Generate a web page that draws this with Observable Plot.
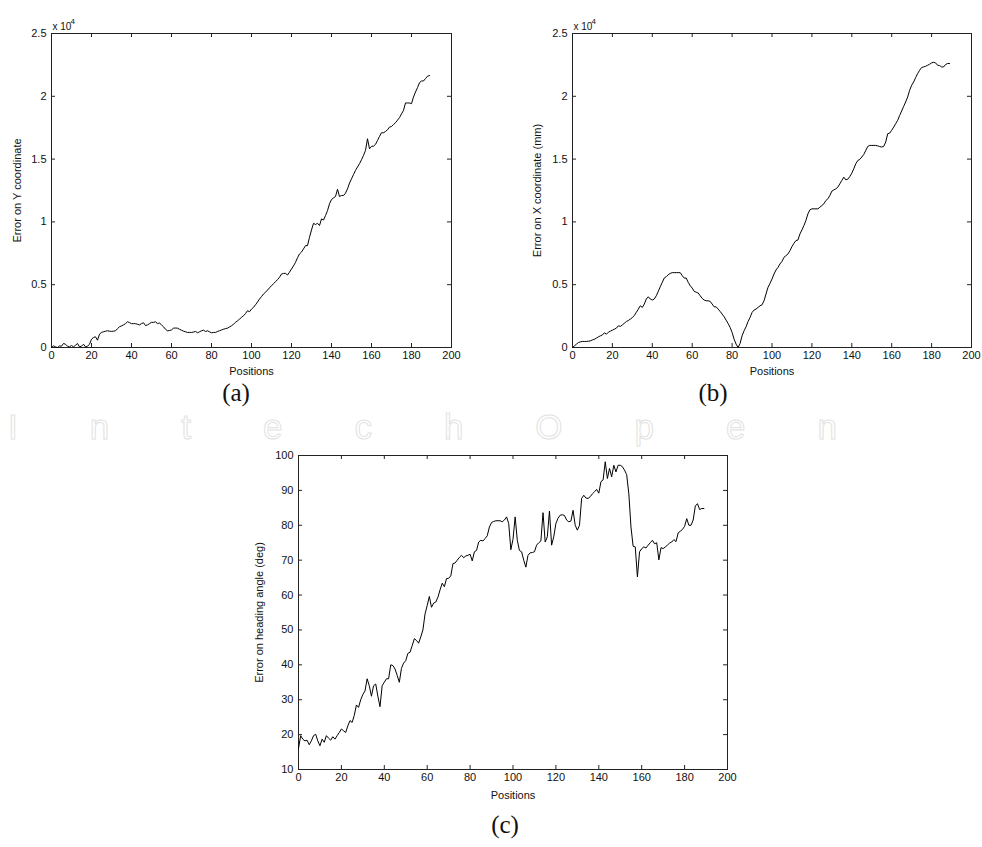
<!DOCTYPE html>
<html>
<head>
<meta charset="utf-8">
<script src="https://cdn.jsdelivr.net/npm/d3@7"></script>
<script src="https://cdn.jsdelivr.net/npm/@observablehq/plot@0.6"></script>
<style>
  html, body { margin: 0; padding: 0; background: #fff; }
  #root { position: relative; width: 982px; height: 847px; overflow: hidden; background: #fff; }
  .panel { position: absolute; }
  .cap { position: absolute; font-family: "Liberation Serif", "DejaVu Serif", serif; font-size: 25px; color: #111; line-height: 1; transform: translateX(-50%); }
  .wm { position: absolute; left: 8px; top: 407px; font-family: "Liberation Sans", Arial, sans-serif; font-size: 35px; line-height: 39px; letter-spacing: 72px; color: transparent; -webkit-text-stroke: 1px #e2e2e2; white-space: nowrap; }
</style>
</head>
<body>
<div id="root"></div>
<script>
// ---- data ----
const positions = d3.range(0, 190);

// Error on Y coordinate (x 10^4)
const errorY = [
  0, 0.013, 0.005, 0, 0.013, 0.01, 0.032, 0.026, 0.01, 0.005,
  0.016, 0.005, 0.018, 0.032, 0.005, 0.01, 0.026, 0.005, 0.01, 0.026,
  0.066, 0.08, 0.085, 0.058, 0.106, 0.12, 0.125, 0.13, 0.133, 0.13,
  0.128, 0.13, 0.133, 0.15, 0.165, 0.172, 0.18, 0.19, 0.205, 0.198,
  0.19, 0.19, 0.19, 0.185, 0.18, 0.19, 0.197, 0.175, 0.18, 0.19,
  0.2, 0.2, 0.205, 0.19, 0.195, 0.18, 0.165, 0.145, 0.133, 0.135,
  0.14, 0.154, 0.155, 0.154, 0.145, 0.138, 0.13, 0.125, 0.12, 0.12,
  0.12, 0.123, 0.128, 0.117, 0.125, 0.133, 0.138, 0.128, 0.133, 0.125,
  0.117, 0.12, 0.12, 0.128, 0.133, 0.14, 0.146, 0.15, 0.154, 0.163,
  0.173, 0.185, 0.2, 0.212, 0.226, 0.24, 0.253, 0.27, 0.293, 0.285,
  0.306, 0.32, 0.34, 0.362, 0.386, 0.405, 0.426, 0.44, 0.457, 0.475,
  0.492, 0.508, 0.524, 0.54, 0.559, 0.585, 0.59, 0.59, 0.577, 0.6,
  0.625, 0.65, 0.678, 0.715, 0.745, 0.76, 0.785, 0.811, 0.811, 0.878,
  0.936, 0.989, 0.979, 0.989, 0.971, 1.024, 1.015, 1.05, 1.09, 1.144,
  1.178, 1.191, 1.202, 1.26, 1.202, 1.21, 1.21, 1.229, 1.263, 1.309,
  1.343, 1.377, 1.41, 1.437, 1.463, 1.495, 1.529, 1.569, 1.662, 1.582,
  1.601, 1.603, 1.617, 1.649, 1.681, 1.71, 1.71, 1.72, 1.733, 1.755,
  1.76, 1.775, 1.79, 1.81, 1.83, 1.86, 1.888, 1.947, 1.947, 1.947,
  1.941, 1.995, 2.034, 2.069, 2.109, 2.122, 2.122, 2.141, 2.16, 2.165
];

// Error on X coordinate (mm) (x 10^4)
const errorX = [
  0, 0.013, 0.027, 0.04, 0.045, 0.048, 0.048, 0.048, 0.05, 0.053,
  0.06, 0.066, 0.075, 0.085, 0.093, 0.1, 0.117, 0.106, 0.122, 0.13,
  0.138, 0.146, 0.154, 0.173, 0.168, 0.18, 0.193, 0.207, 0.215, 0.226,
  0.238, 0.255, 0.28, 0.306, 0.332, 0.319, 0.346, 0.386, 0.404, 0.386,
  0.378, 0.386, 0.412, 0.447, 0.484, 0.519, 0.553, 0.564, 0.58, 0.59,
  0.596, 0.596, 0.596, 0.596, 0.596, 0.572, 0.553, 0.553, 0.519, 0.492,
  0.473, 0.447, 0.44, 0.434, 0.412, 0.391, 0.378, 0.372, 0.372, 0.367,
  0.346, 0.324, 0.324, 0.306, 0.287, 0.266, 0.245, 0.218, 0.191, 0.16,
  0.12, 0.066, 0.027, 0, 0.032, 0.093, 0.133, 0.165, 0.207, 0.239,
  0.279, 0.298, 0.306, 0.319, 0.332, 0.34, 0.372, 0.426, 0.479, 0.511,
  0.545, 0.585, 0.617, 0.638, 0.665, 0.686, 0.718, 0.731, 0.745, 0.771,
  0.803, 0.83, 0.851, 0.856, 0.904, 0.936, 0.971, 1.011, 1.064, 1.096,
  1.104, 1.104, 1.104, 1.104, 1.117, 1.13, 1.144, 1.17, 1.184, 1.21,
  1.245, 1.255, 1.263, 1.277, 1.303, 1.33, 1.356, 1.335, 1.34, 1.361,
  1.388, 1.423, 1.463, 1.489, 1.497, 1.516, 1.537, 1.569, 1.601, 1.609,
  1.609, 1.609, 1.609, 1.605, 1.6, 1.596, 1.601, 1.636, 1.702, 1.707,
  1.729, 1.755, 1.782, 1.809, 1.848, 1.883, 1.92, 1.955, 1.995, 2.048,
  2.088, 2.114, 2.149, 2.181, 2.207, 2.229, 2.234, 2.239, 2.247, 2.255,
  2.266, 2.271, 2.266, 2.247, 2.245, 2.234, 2.234, 2.253, 2.261, 2.261
];

// Error on heading angle (deg)
const errorHeading = [
  16.0, 19.7, 18.7, 18.2, 18.4, 17.1, 18.2, 19.7, 20.1, 18.2,
  16.8, 18.7, 17.8, 19.7, 19.0, 18.4, 19.4, 18.7, 19.7, 20.6,
  21.6, 21.1, 20.6, 22.5, 24.0, 23.5, 25.5, 28.5, 27.8, 30.0,
  31.5, 32.5, 36.0, 34.0, 31.0, 34.0, 34.5, 31.0, 28.0, 34.0,
  35.0, 36.0, 36.0, 40.0, 39.8, 38.8, 37.0, 35.0, 39.0, 40.5,
  41.2, 43.3, 43.6, 45.5, 47.5, 47.0, 46.2, 48.0, 50.0, 54.6,
  57.0, 59.6, 56.5, 57.7, 58.0, 59.4, 61.5, 63.4, 62.4, 64.7,
  64.8, 65.5, 69.0, 69.2, 70.0, 70.8, 71.4, 70.7, 71.2, 71.4,
  71.7, 69.8, 72.4, 72.8, 75.2, 75.7, 75.5, 76.2, 77.0, 79.5,
  80.8, 81.1, 81.3, 81.3, 81.3, 81.0, 81.5, 82.4, 80.5, 73.0,
  76.0, 82.4, 75.7, 72.8, 72.4, 70.0, 68.0, 71.4, 72.1, 72.2,
  72.4, 74.3, 75.0, 75.5, 83.6, 75.2, 76.7, 84.1, 74.3, 76.7,
  80.5, 82.0, 82.9, 83.0, 82.8, 81.5, 81.0, 81.2, 84.3, 80.0,
  78.6, 80.0, 87.7, 88.6, 87.8, 87.7, 88.2, 89.0, 89.6, 90.3,
  89.2, 92.5, 93.0, 98.2, 93.4, 96.3, 93.9, 97.2, 95.3, 97.2,
  97.2, 96.8, 95.8, 94.5, 89.0, 79.5, 74.0, 73.8, 65.2, 72.4,
  73.3, 73.8, 73.5, 74.3, 75.0, 75.7, 74.7, 75.0, 70.1, 73.6,
  73.3, 73.8, 74.3, 74.9, 75.2, 75.9, 75.3, 77.8, 78.3, 78.8,
  79.7, 81.9, 80.0, 80.0, 81.5, 85.5, 86.2, 84.5, 84.8, 84.8
];

const xTicks = [0, 20, 40, 60, 80, 100, 120, 140, 160, 180, 200];
const yTicksXY = [0, 0.5, 1, 1.5, 2, 2.5];
const yTicksHeading = [10, 20, 30, 40, 50, 60, 70, 80, 90, 100];
const xLabel = "Positions";
const yLabels = ["Error on Y coordinate", "Error on X coordinate (mm)", "Error on heading angle (deg)"];
const exponentBase = "x 10";
const exponentPower = "4";
const captions = ["(a)", "(b)", "(c)"];
const watermark = "IntechOpen";

// ---- drawing ----
const root = document.getElementById("root");

// faint watermark behind the figure
const wm = document.createElement("div");
wm.className = "wm";
wm.textContent = watermark;
root.appendChild(wm);

function panel(o) {
  const data = positions.map((p, i) => ({p, v: o.values[i]}));
  const fmt = d => String(d);
  const innerW = o.width - o.ml - o.mr;
  const innerH = o.height - o.mt - o.mb;
  const tk = 4;
  const tickColor = "#222";
  const marks = [
    Plot.frame({stroke: "#222", strokeWidth: 1}),
    // tick labels + axis titles
    Plot.axisX(xTicks, {anchor: "bottom", tickSize: 0, tickPadding: 4, tickFormat: fmt, label: xLabel,
      labelAnchor: "center", labelArrow: "none", labelOffset: o.labelOffsetX}),
    Plot.axisY(o.yTicks, {anchor: "left", tickSize: 0, tickPadding: 5, tickFormat: fmt, label: o.yLabel,
      labelAnchor: "center", labelArrow: "none", labelOffset: o.labelOffsetY}),
    // inward ticks on all four sides
    Plot.tickX(xTicks, {x: d => d, insetTop: innerH - tk, stroke: tickColor}),
    Plot.tickX(xTicks, {x: d => d, insetBottom: innerH - tk, stroke: tickColor}),
    Plot.tickY(o.yTicks, {y: d => d, insetRight: innerW - tk, stroke: tickColor}),
    Plot.tickY(o.yTicks, {y: d => d, insetLeft: innerW - tk, stroke: tickColor}),
    Plot.lineY(data, {x: "p", y: "v", stroke: "#000", strokeWidth: 1})
  ];
  if (o.exponent) {
    marks.push(Plot.text([exponentBase], {frameAnchor: "top-left", text: d => d, textAnchor: "start",
      lineAnchor: "bottom", dx: 1, dy: -4, fontSize: 10, fill: "#111"}));
    marks.push(Plot.text([exponentPower], {frameAnchor: "top-left", text: d => d, textAnchor: "start",
      lineAnchor: "bottom", dx: 19, dy: -10, fontSize: 8, fill: "#111"}));
  }
  const chart = Plot.plot({
    width: o.width, height: o.height,
    marginLeft: o.ml, marginRight: o.mr, marginTop: o.mt, marginBottom: o.mb,
    x: {domain: [0, 200], axis: null},
    y: {domain: o.yDomain, axis: null},
    style: {fontFamily: "'Liberation Sans', Arial, Helvetica, sans-serif", fontSize: "11px", color: "#111", background: "transparent", overflow: "visible"},
    marks
  });
  const wrap = document.createElement("div");
  wrap.className = "panel";
  wrap.style.left = o.left + "px";
  wrap.style.top = o.top + "px";
  wrap.appendChild(chart);
  root.appendChild(wrap);
}

panel({values: errorY, yDomain: [0, 2.5], yTicks: yTicksXY, yLabel: yLabels[0], exponent: true,
  left: 0, top: 0, width: 470, height: 390, ml: 51, mr: 19, mt: 33, mb: 43, labelOffsetX: 27, labelOffsetY: 38});
panel({values: errorX, yDomain: [0, 2.5], yTicks: yTicksXY, yLabel: yLabels[1], exponent: true,
  left: 490, top: 0, width: 490, height: 390, ml: 82, mr: 9, mt: 33, mb: 43, labelOffsetX: 27, labelOffsetY: 39});
panel({values: errorHeading, yDomain: [10, 100], yTicks: yTicksHeading, yLabel: yLabels[2], exponent: false,
  left: 230, top: 420, width: 520, height: 400, ml: 68, mr: 23, mt: 35, mb: 51, labelOffsetX: 29, labelOffsetY: 43});

const capPos = [[236, 380], [713, 380], [505, 812]];
captions.forEach((c, i) => {
  const d = document.createElement("div");
  d.className = "cap";
  d.textContent = c;
  d.style.left = capPos[i][0] + "px";
  d.style.top = capPos[i][1] + "px";
  root.appendChild(d);
});
</script>
</body>
</html>
